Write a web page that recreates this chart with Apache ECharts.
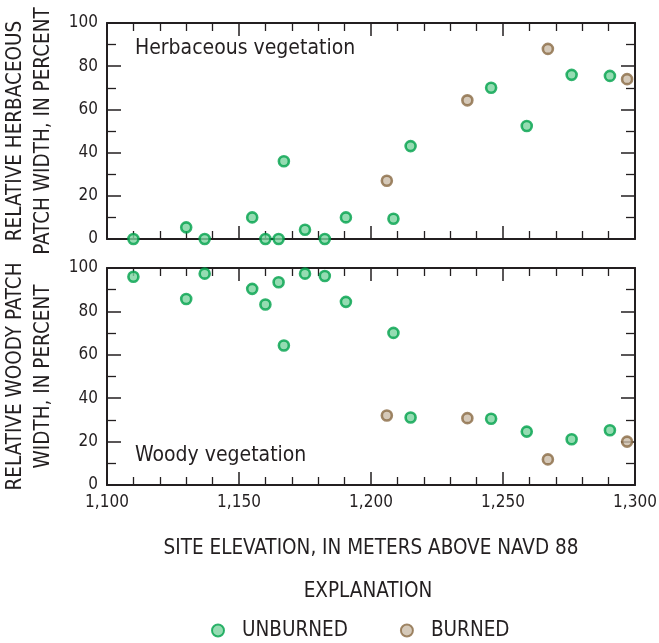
<!DOCTYPE html>
<html>
<head>
<meta charset="utf-8">
<script src="https://cdn.jsdelivr.net/npm/echarts@6/dist/echarts.min.js"></script>
<style>
html,body{margin:0;padding:0;background:#fff;}
#c{width:659px;height:643px;}
</style>
</head>
<body>
<div id="c"></div>
<script>
// ---- data ----
const elevUnburned = [1110, 1130, 1137, 1155, 1160, 1165, 1167, 1175, 1182.5, 1190.5, 1208.5, 1215, 1245.5, 1259, 1276, 1290.5];
const herbUnburned = [0, 5.4, 0, 10, 0, 0, 36, 4.3, 0, 10, 9.4, 43, 70, 52.3, 76, 75.5];
const woodyUnburned = [96, 85.7, 97.4, 90.4, 83.2, 93.4, 64.3, 97.4, 96.3, 84.4, 70.1, 31.1, 30.5, 24.6, 21.1, 25.2];
const elevBurned = [1206, 1236.5, 1267, 1297];
const herbBurned = [27, 64.2, 88, 74];
const woodyBurned = [32, 30.8, 11.8, 20];
const xTicks = [1100, 1150, 1200, 1250, 1300];
const yTicks = [0, 20, 40, 60, 80, 100];
const panelLabels = ['Herbaceous vegetation', 'Woody vegetation'];
const yTitles = ['RELATIVE HERBACEOUS\nPATCH WIDTH, IN PERCENT', 'RELATIVE WOODY PATCH\nWIDTH, IN PERCENT'];
const xTitle = 'SITE ELEVATION, IN METERS ABOVE NAVD 88';
const legendTitle = 'EXPLANATION';
const seriesNames = ['UNBURNED', 'BURNED'];

// ---- styling ----
const FONT = '"DejaVu Sans Condensed", "Liberation Sans Narrow", "Liberation Sans", sans-serif';
const INK = '#231f20';
const TEXT = '#231f20';
const styles = {
  UNBURNED: { color: '#7bd39f', borderColor: '#00a14b', borderWidth: 2.6 },
  BURNED: { color: '#cbbca7', borderColor: '#8a6a44', borderWidth: 2.6 }
};

const zip = (xs, ys) => xs.map((x, i) => [x, ys[i]]);
const fmtX = v => v.toLocaleString('en-US');

const grids = [
  { left: 107, top: 23, width: 528, height: 216, outerBoundsMode: 'none', containLabel: false },
  { left: 107, top: 268, width: 528, height: 217, outerBoundsMode: 'none', containLabel: false }
];

function xAxis(gridIndex, position, showLabels) {
  return {
    type: 'value', gridIndex, position, min: 1100, max: 1300, interval: 50,
    axisLine: { show: true, onZero: false, lineStyle: { color: INK, width: 2 } },
    axisTick: { show: true, inside: true, length: 13, lineStyle: { color: INK, width: 1.5 } },
    minorTick: { show: true, splitNumber: 5, length: 8, lineStyle: { color: INK, width: 1.3 } },
    splitLine: { show: false },
    axisLabel: { show: showLabels, formatter: fmtX, margin: 9, fontFamily: FONT, fontSize: 17, color: TEXT, showMinLabel: true, showMaxLabel: true },
    name: showLabels ? xTitle : '',
    nameLocation: 'middle', nameGap: 53,
    nameTextStyle: { fontFamily: FONT, fontSize: 20.5, color: TEXT }
  };
}
function yAxis(gridIndex, position, showLabels, title) {
  return {
    type: 'value', gridIndex, position, min: 0, max: 100, interval: 20,
    axisLine: { show: true, onZero: false, lineStyle: { color: INK, width: 2 } },
    axisTick: { show: true, inside: true, length: 14, lineStyle: { color: INK, width: 1.5 } },
    minorTick: { show: true, splitNumber: 2, length: 9, lineStyle: { color: INK, width: 1.3 } },
    splitLine: { show: false },
    axisLabel: { show: showLabels, margin: 9, fontFamily: FONT, fontSize: 17, color: TEXT, showMinLabel: true, showMaxLabel: true },
    name: title || '',
    nameLocation: 'middle', nameGap: 42,
    nameTextStyle: { fontFamily: FONT, fontSize: 20.5, color: TEXT, lineHeight: 28, align: 'center' }
  };
}

function scatter(name, xAxisIndex, yAxisIndex, data) {
  return {
    type: 'scatter', name, xAxisIndex, yAxisIndex, data,
    symbol: 'circle', symbolSize: 10, clip: false,
    itemStyle: Object.assign({}, styles[name]),
    emphasis: { disabled: true }
  };
}

const option = {
  animation: false,
  grid: grids,
  xAxis: [xAxis(0, 'bottom', false), xAxis(0, 'top', false), xAxis(1, 'bottom', true), xAxis(1, 'top', false)],
  yAxis: [yAxis(0, 'left', true, yTitles[0]), yAxis(0, 'right', false), yAxis(1, 'left', true, yTitles[1]), yAxis(1, 'right', false)],
  legend: {
    data: seriesNames,
    left: 211, top: 620, padding: 0,
    icon: 'circle', itemWidth: 12, itemHeight: 12, itemGap: 52,
    textStyle: { fontFamily: FONT, fontSize: 20.5, color: TEXT, padding: [0, 0, 0, 13] },
    selectedMode: false
  },
  graphic: [
    { type: 'text', x: 135, y: 49, style: { text: panelLabels[0], font: '21px ' + FONT, fill: TEXT, verticalAlign: 'middle' } },
    { type: 'text', x: 135, y: 456, style: { text: panelLabels[1], font: '21px ' + FONT, fill: TEXT, verticalAlign: 'middle' } },
    { type: 'text', x: 368, y: 592, style: { text: legendTitle, font: '20.5px ' + FONT, fill: TEXT, align: 'center', verticalAlign: 'middle' } }
  ],
  series: [
    scatter('UNBURNED', 0, 0, zip(elevUnburned, herbUnburned)),
    scatter('BURNED', 0, 0, zip(elevBurned, herbBurned)),
    scatter('UNBURNED', 2, 2, zip(elevUnburned, woodyUnburned)),
    scatter('BURNED', 2, 2, zip(elevBurned, woodyBurned))
  ]
};

const chart = echarts.init(document.getElementById('c'), null, { renderer: 'canvas' });
chart.setOption(option);
</script>
</body>
</html>
